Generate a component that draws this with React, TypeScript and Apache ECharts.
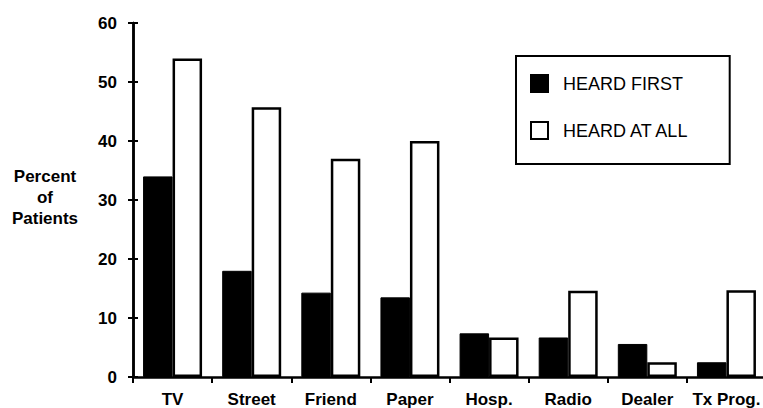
import React, { useEffect, useRef } from "react";
import * as echarts from "echarts";

const categories = ["TV", "Street", "Friend", "Paper", "Hosp.", "Radio", "Dealer", "Tx Prog."];
const heardFirst = [34, 18, 14.3, 13.5, 7.4, 6.7, 5.6, 2.5];
const heardAtAll = [54, 45.7, 37, 40, 6.7, 14.6, 2.5, 14.7];
const seriesNames = ["HEARD FIRST", "HEARD AT ALL"];
const yAxisTitle = "Percent\nof\nPatients";

const FONT = "'Liberation Sans', Arial, Helvetica, sans-serif";

export default function App() {
  const ref = useRef<HTMLDivElement>(null);
  useEffect(() => {
    if (!ref.current) return;
    const chart = echarts.init(ref.current, undefined, { renderer: "svg" });
    const gridBox = { left: 133, top: 23, bottom: 31, right: -3, containLabel: false, outerBoundsMode: "none" };
    chart.setOption({
      animation: false,
      backgroundColor: "#fff",
      textStyle: { fontFamily: FONT },
      grid: [gridBox, { ...gridBox }],
      legend: {
        orient: "vertical",
        left: 516,
        top: 56,
        padding: [18, 40, 24, 14],
        itemGap: 28,
        itemWidth: 17,
        itemHeight: 17,
        borderColor: "#000",
        borderWidth: 2,
        backgroundColor: "#fff",
        icon: "rect",
        textStyle: { fontSize: 18, color: "#000", fontFamily: FONT, padding: [0, 0, 0, 10] },
        data: seriesNames,
      },
      xAxis: [
        {
          type: "category",
          gridIndex: 0,
          data: categories,
          boundaryGap: true,
          axisLine: { show: true, lineStyle: { color: "#000", width: 2.5 } },
          axisTick: { show: true, interval: 0, length: 6, lineStyle: { color: "#000", width: 2 } },
          axisLabel: { color: "#000", fontSize: 17, fontWeight: "bold", margin: 14, interval: 0, fontFamily: FONT },
          splitLine: { show: false },
        },
        {
          type: "category",
          gridIndex: 1,
          data: categories,
          show: false,
        },
      ],
      yAxis: [
        {
          type: "value",
          gridIndex: 0,
          min: 0,
          max: 60,
          interval: 10,
          axisLine: { show: true, lineStyle: { color: "#000", width: 2.5 } },
          axisTick: { show: true, length: 5, lineStyle: { color: "#000", width: 2 } },
          axisLabel: { color: "#000", fontSize: 17, fontWeight: "bold", margin: 16, fontFamily: FONT },
          splitLine: { show: false },
        },
        {
          type: "value",
          gridIndex: 1,
          position: "left",
          min: 0,
          max: 60,
          interval: 10,
          axisLine: { show: true, lineStyle: { color: "#000", width: 2.5 } },
          axisTick: { show: true, inside: true, length: 5, lineStyle: { color: "#000", width: 2 } },
          axisLabel: { show: false },
          splitLine: { show: false },
        },
      ],
      graphic: [
        {
          type: "text",
          x: 45,
          y: 197,
          style: {
            text: yAxisTitle,
            align: "center",
            verticalAlign: "middle",
            font: `bold 17px ${FONT}`,
            lineHeight: 21,
            fill: "#000",
          },
        },
      ],
      series: [
        {
          name: seriesNames[0],
          type: "bar",
          data: heardFirst,
          barWidth: 29.5,
          barGap: "0%",
          itemStyle: { color: "#000", borderColor: "#000", borderWidth: 1 },
        },
        {
          name: seriesNames[1],
          type: "bar",
          data: heardAtAll,
          barWidth: 29.5,
          barGap: "0%",
          itemStyle: { color: "#fff", borderColor: "#000", borderWidth: 2.5 },
        },
      ],
    });
    return () => chart.dispose();
  }, []);
  return <div ref={ref} style={{ width: 763, height: 408, position: "absolute", left: 0, top: 0 }} />;
}
